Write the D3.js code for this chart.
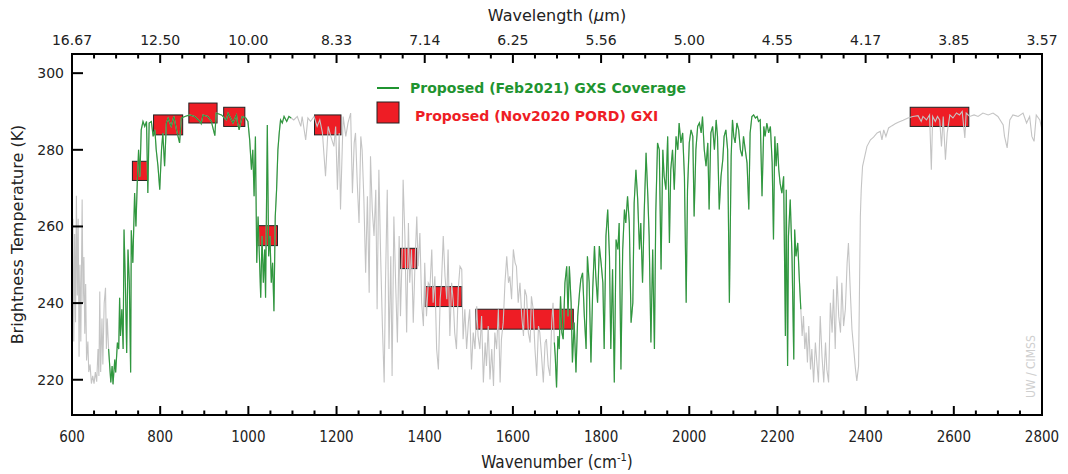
<!DOCTYPE html>
<html>
<head>
<meta charset="utf-8">
<script src="https://cdn.jsdelivr.net/npm/d3@7"></script>
<style>
  html, body { margin: 0; padding: 0; background: #fff; }
  svg text { font-family: "DejaVu Sans", sans-serif; }
  .cond { font-family: "DejaVu Sans Condensed", "DejaVu Sans", sans-serif; font-stretch: condensed; }
</style>
</head>
<body>
<div id="vis"></div>
<script>
// Brightness temperature spectrum with GXS coverage (green) and GXI bands (red boxes).

// [wavenumber (cm-1), brightness temperature (K)]
const SPECTRUM = [
  [600,238],[602,262],[604,230],[606,258],[608,235],[610,268],[612,242],[614,262],[616,226],[618,250],
  [620,230],[623,267],[625,240],[627,252],[629,232],[631,245],[633,225],[636,230],[638,222],[641,224],
  [644,219],[647,221],[650,219],[653,222],[656,219.5],[659,228],[661,221],[663,243],[665,222],[668,236],
  [670,224],[673,240],[676,244],[678,228],[680,236],[683,228],[688,219.3],[691,223.6],[693,218.8],[697,225.3],
  [699,221.9],[703,229.7],[706,228],[708,241.4],[710,231.4],[713,238.4],[716,228],[718,259.2],[721,245.3],[724,227],
  [727,254],[730,245.3],[733,221.9],[734.5,259],[738,250.5],[742,268.7],[745,260],[748,271.3],[751,280],[754,273],
  [757,285.2],[761,287.4],[765,286.1],[769,287.4],[772,268.7],[775,287],[780,287.4],[784,283.5],[788,285.2],[791,280],
  [795,275.7],[799,269.6],[803,280],[806,284.4],[810,275.7],[814,287],[818,288.3],[825,286.1],[831,288.7],[837,285.2],
  [844,281.8],[848,288.3],[856,288.7],[867,289.1],[878,288.7],[890,287.4],[893,286.8],[897,289.1],[908,288.7],[916,287.4],
  [924,283.7],[927,289.6],[939,289.1],[950,287.8],[954,289.6],[965,287],[973,289.1],[975,287.4],[979,285.2],[986,288.7],
  [994,288.3],[999,287.4],[1003,282.6],[1007,274.8],[1010,280],[1013,267.9],[1016,283.5],[1019,250.5],[1022,262.6],[1025,252.2],
  [1028,241.4],[1031,257.5],[1034,245.3],[1037,254],[1039,241.4],[1043,286.5],[1046,252.2],[1049,257.5],[1052,245.3],[1055,250.5],
  [1058,237.9],[1061,262.6],[1064,269.6],[1067,280],[1070,284.4],[1073,287.8],[1077,287],[1081,288.7],[1087,287.4],[1092,288.7],
  [1097,288.3],[1103,287.8],[1111,288.7],[1119,286.1],[1122,288.7],[1130,282.6],[1135,288.3],[1141,287.4],[1149,288.7],[1156,286.1],
  [1162,287.8],[1168,284.4],[1175,273.1],[1181,286.1],[1187,283.5],[1194,280.9],[1198,286.1],[1202,269.6],[1206,284.4],[1209,264.4],
  [1215,288.7],[1221,283.5],[1226,287],[1232,289.6],[1236,268.7],[1240,281.8],[1243,284.4],[1247,271.3],[1251,260.9],[1255,283.5],
  [1258,280],[1262,267],[1266,247.9],[1270,267.9],[1274,242.7],[1277,278.3],[1281,264.4],[1285,257.5],[1289,269.6],[1292,238.4],
  [1296,274.8],[1300,252.2],[1304,234],[1308,219.3],[1311,245.3],[1315,269.6],[1319,228],[1323,252.2],[1326,221],[1330,262.6],
  [1334,245.3],[1338,229.7],[1342,257.5],[1345,236.6],[1349,254],[1351,272.2],[1355,257.5],[1359,232.3],[1363,260.9],[1366,245.3],
  [1370,254],[1374,234.9],[1378,250.5],[1382,262.6],[1385,249.6],[1389,258.3],[1393,240.1],[1397,234],[1400,250.5],[1404,236.6],
  [1408,245.3],[1412,244.4],[1416,254],[1419,240.1],[1423,247],[1427,228],[1431,222.7],[1435,241],[1438,245.3],[1442,257.5],
  [1446,247],[1450,241],[1453,254],[1457,231.4],[1461,245.3],[1465,240.1],[1468,232.3],[1472,228],[1476,243.6],[1480,249.6],
  [1484,248.8],[1487,230.6],[1491,238.4],[1495,228],[1499,234.9],[1502,238.4],[1506,222.7],[1510,232.3],[1514,228],[1518,239.2],
  [1521,231.4],[1525,228],[1529,236.6],[1533,219.3],[1537,229.7],[1540,223.6],[1544,234],[1548,220.1],[1552,228],[1556,218.4],
  [1559,232.3],[1563,228],[1567,238.4],[1571,219.3],[1574,230.6],[1578,234.9],[1582,245.3],[1586,252.2],[1590,245.3],[1593,247],
  [1597,241],[1601,254],[1605,250.5],[1608,249.6],[1612,240.1],[1616,245.3],[1620,236.6],[1624,231.4],[1627,243.6],[1631,241.8],
  [1635,232.3],[1639,229.7],[1642,241.8],[1646,238.4],[1650,228],[1654,221],[1658,234],[1661,232.3],[1665,226.2],[1669,219.3],
  [1673,229.7],[1676,230.6],[1680,223.6],[1684,221],[1688,234.9],[1691,240.1],[1694,229.7],[1696,226.2],[1699,218],[1702,231.4],
  [1705,228],[1708,241.8],[1711,232.3],[1714,230.6],[1718,245.3],[1722,249.6],[1725,236.6],[1728,249.6],[1732,240.1],[1735,224.5],
  [1739,234.9],[1743,221.9],[1747,236.6],[1751,242.7],[1754,246.2],[1758,247.9],[1762,236.6],[1766,228],[1769,252.2],[1773,245.3],
  [1777,224.5],[1781,243.6],[1785,254.9],[1788,247],[1792,240.1],[1796,254.9],[1800,250.5],[1804,245.3],[1807,228],[1811,257.5],
  [1815,264.4],[1819,252.2],[1822,228],[1826,248.8],[1830,219.3],[1834,256.6],[1838,254],[1841,260.9],[1845,222.7],[1849,254],
  [1853,264.4],[1856,260.9],[1860,267.9],[1864,260.9],[1868,234.9],[1872,240.1],[1875,266.1],[1879,274.8],[1883,267],[1887,254],
  [1890,260.9],[1894,245.3],[1898,264.4],[1902,279.2],[1906,267.9],[1909,257.5],[1913,229.7],[1917,254],[1921,228],[1924,263.5],
  [1928,281.8],[1932,280],[1936,248.8],[1940,280],[1943,273.1],[1947,269.6],[1951,283.5],[1955,255.7],[1958,274.8],[1962,280],
  [1966,269.6],[1970,283.5],[1974,280],[1977,287],[1981,281.8],[1985,284.4],[1989,273.1],[1993,240.1],[1996,269.6],[2000,281.8],
  [2004,285.2],[2008,283.5],[2011,262.6],[2015,280],[2019,286.1],[2023,287],[2027,284.4],[2030,288.7],[2034,280],[2038,275.7],
  [2042,281.8],[2045,264.4],[2049,284.4],[2053,286.1],[2057,280],[2061,287.8],[2064,283.5],[2068,264.4],[2072,273.1],[2076,277.4],
  [2079,283.5],[2083,285.2],[2087,280],[2091,240.1],[2095,278.3],[2098,287.8],[2101,283.5],[2104,281.8],[2108,287],[2112,285.2],
  [2116,280],[2120,278.3],[2123,283.5],[2127,280],[2131,276.6],[2135,264.4],[2138,284.4],[2142,288.7],[2146,289.1],[2150,288.3],
  [2154,288.7],[2157,287.4],[2161,287.8],[2165,267.9],[2169,286.1],[2172,283.5],[2176,287],[2180,284.4],[2184,286.1],[2188,276.6],
  [2191,256.6],[2194,283.5],[2197,275.7],[2200,281.8],[2203,274.8],[2206,271.3],[2210,268.7],[2214,273.1],[2218,231.4],[2220,269.6],
  [2223,223.6],[2225,257.5],[2229,267],[2233,252.2],[2237,225.3],[2239,259.2],[2242,252.2],[2246,255.7],[2250,245.3],[2253,238.4],
  [2256,231.4],[2259,236.6],[2262,228],[2265,232.3],[2268,224.5],[2271,234],[2275,222.7],[2278,228],[2282,219.3],[2286,229.7],
  [2290,223.6],[2293,219.3],[2297,236.6],[2301,226.2],[2305,219.3],[2309,229.7],[2312,222.7],[2316,219.3],[2320,240.1],[2324,232.3],
  [2327,243.6],[2331,228],[2335,247],[2339,236.6],[2343,232.3],[2346,245.3],[2350,234],[2354,238.4],[2358,250.5],[2361,255.7],
  [2365,243.6],[2369,233.1],[2373,228],[2377,222.7],[2380,219.7],[2384,223.6],[2388,262.6],[2390,269.6],[2393,275.7],[2398,278.3],
  [2403,280.9],[2411,282.6],[2418,283.3],[2426,284.4],[2433,284.8],[2437,282.6],[2441,285.2],[2446,283.5],[2452,285.7],[2460,286.3],
  [2467,286.8],[2474,287.2],[2485,287.7],[2496,288.3],[2507,288.7],[2519,288.9],[2526,287.4],[2530,288.7],[2538,287.8],[2545,289.1],
  [2549,274.8],[2552,288.7],[2558,287.4],[2563,288.7],[2568,287.8],[2572,280.9],[2576,288.7],[2581,277.4],[2585,284.4],[2591,289.1],
  [2598,288.3],[2606,289.6],[2613,289.1],[2619,290],[2625,283.1],[2628,289.6],[2636,288.7],[2646,289.1],[2655,288.7],[2666,289.6],
  [2678,289.1],[2689,289.6],[2700,288.7],[2712,286.5],[2715,283.5],[2721,280.5],[2727,287.8],[2734,289.1],[2746,288.7],[2757,289.6],
  [2765,287],[2772,288.7],[2777,283.5],[2782,282.2],[2787,289.1],[2795,287.8],[2800,285.2]
];

// GXS spectral coverage (cm-1)
const GXS_COVERAGE = [[682, 1097], [1692, 2253]];

// GXI bands: [wn lo, wn hi, Tb lo, Tb hi]
const GXI_BANDS = [
  [737, 772, 272.0, 277.0],
  [785, 851, 283.9, 289.1],
  [865, 929, 287.0, 292.2],
  [944, 992, 286.1, 291.1],
  [1022, 1066, 255.0, 260.2],
  [1150, 1210, 283.9, 289.1],
  [1345, 1382, 249.0, 254.3],
  [1401, 1484, 239.1, 244.3],
  [1516, 1737, 233.2, 238.4],
  [2501, 2634, 286.1, 291.1]
];

const X_TICKS = [600, 800, 1000, 1200, 1400, 1600, 1800, 2000, 2200, 2400, 2600, 2800];
const TOP_TICK_LABELS = ["16.67", "12.50", "10.00", "8.33", "7.14", "6.25", "5.56", "5.00", "4.55", "4.17", "3.85", "3.57"];
const Y_TICKS = [220, 240, 260, 280, 300];

const W = 1068, H = 474;
const margin = { top: 54, right: 26, bottom: 59, left: 72 };
const innerW = W - margin.left - margin.right;
const innerH = H - margin.top - margin.bottom;

const x = d3.scaleLinear().domain([600, 2800]).range([0, innerW]);
const y = d3.scaleLinear().domain([210.8, 305]).range([innerH, 0]);

const svg = d3.select("#vis").append("svg").attr("width", W).attr("height", H);
const g = svg.append("g").attr("transform", `translate(${margin.left},${margin.top})`);

// ── GXI boxes (under the spectrum) ──────────────────────────────────────────
g.append("g").selectAll("rect").data(GXI_BANDS).join("rect")
  .attr("x", d => x(d[0])).attr("width", d => x(d[1]) - x(d[0]))
  .attr("y", d => y(d[3])).attr("height", d => y(d[2]) - y(d[3]))
  .attr("fill", "#ee1d25").attr("stroke", "#222").attr("stroke-width", 1);

// ── Spectrum ────────────────────────────────────────────────────────────────
const line = d3.line().x(d => x(d[0])).y(d => y(d[1]));

g.append("path").datum(SPECTRUM)
  .attr("fill", "none").attr("stroke", "#c4c4c4").attr("stroke-width", 1.1)
  .attr("d", line);

GXS_COVERAGE.forEach(([lo, hi]) => {
  g.append("path").datum(SPECTRUM.filter(d => d[0] >= lo && d[0] <= hi))
    .attr("fill", "none").attr("stroke", "#1f9430").attr("stroke-width", 1.2)
    .attr("stroke-opacity", 0.9)
    .attr("d", line);
});

// ── Axes ────────────────────────────────────────────────────────────────────
const minorTicks = d3.range(600, 2801, 50).filter(v => v % 200 !== 0);

const tickG = g.append("g").attr("stroke", "#000");
X_TICKS.forEach(v => {
  tickG.append("line").attr("x1", x(v)).attr("x2", x(v)).attr("y1", innerH).attr("y2", innerH - 9).attr("stroke-width", 2);
  tickG.append("line").attr("x1", x(v)).attr("x2", x(v)).attr("y1", 0).attr("y2", 9).attr("stroke-width", 2);
});
minorTicks.forEach(v => {
  tickG.append("line").attr("x1", x(v)).attr("x2", x(v)).attr("y1", innerH).attr("y2", innerH - 4.5).attr("stroke-width", 2);
  tickG.append("line").attr("x1", x(v)).attr("x2", x(v)).attr("y1", 0).attr("y2", 4.5).attr("stroke-width", 2);
});
Y_TICKS.forEach(v => {
  tickG.append("line").attr("x1", 0).attr("x2", 11).attr("y1", y(v)).attr("y2", y(v)).attr("stroke-width", 2);
});

g.append("rect").attr("x", 0).attr("y", 0).attr("width", innerW).attr("height", innerH)
  .attr("fill", "none").attr("stroke", "#000").attr("stroke-width", 2);

// bottom labels
g.append("g").selectAll("text").data(X_TICKS).join("text")
  .attr("class", "cond")
  .attr("x", d => x(d)).attr("y", innerH + 27)
  .attr("text-anchor", "middle").style("font-size", "15px").style("fill", "#222")
  .text(d => d);

// top labels (wavelength)
g.append("g").selectAll("text").data(X_TICKS).join("text")
  .attr("x", d => x(d)).attr("y", -9)
  .attr("text-anchor", "middle").style("font-size", "14px").style("fill", "#222")
  .text((d, i) => TOP_TICK_LABELS[i]);

// y labels
g.append("g").selectAll("text").data(Y_TICKS).join("text")
  .attr("x", -8).attr("y", d => y(d)).attr("dy", "0.36em")
  .attr("text-anchor", "end").style("font-size", "14px").style("fill", "#222")
  .text(d => d);

// titles
const xt = svg.append("text").attr("class", "cond")
  .attr("x", margin.left + innerW / 2).attr("y", 468)
  .attr("text-anchor", "middle").style("font-size", "17px").style("fill", "#222");
xt.append("tspan").text("Wavenumber (cm");
xt.append("tspan").attr("dy", "-7").style("font-size", "11px").text("-1");
xt.append("tspan").attr("dy", "7").text(")");

const tt = svg.append("text")
  .attr("x", margin.left + innerW / 2).attr("y", 21)
  .attr("text-anchor", "middle").style("font-size", "16px").style("fill", "#222");
tt.append("tspan").text("Wavelength (");
tt.append("tspan").style("font-style", "italic").text("μ");
tt.append("tspan").text("m)");

svg.append("text")
  .attr("transform", `translate(23,${margin.top + innerH / 2}) rotate(-90)`)
  .attr("text-anchor", "middle").style("font-size", "16px").style("fill", "#222")
  .text("Brightness Temperature (K)");

// ── Legend ──────────────────────────────────────────────────────────────────
svg.append("line").attr("x1", 377).attr("x2", 399).attr("y1", 88).attr("y2", 88)
  .attr("stroke", "#1f9430").attr("stroke-width", 2);
svg.append("text").attr("x", 410).attr("y", 93)
  .style("font-size", "14px").style("font-weight", "bold").style("fill", "#1f9430")
  .text("Proposed (Feb2021) GXS Coverage");
svg.append("rect").attr("x", 377).attr("y", 102).attr("width", 22).attr("height", 21)
  .attr("fill", "#ee1d25").attr("stroke", "#222").attr("stroke-width", 1);
svg.append("text").attr("x", 415).attr("y", 121)
  .style("font-size", "14px").style("font-weight", "bold").style("fill", "#ee1d25")
  .text("Proposed (Nov2020 PORD) GXI");

// watermark
svg.append("text")
  .attr("class", "cond")
  .attr("transform", "translate(1035,398) rotate(-90)")
  .style("font-size", "12px").style("fill", "#cfcfcf")
  .text("UW / CIMSS");
</script>
</body>
</html>
